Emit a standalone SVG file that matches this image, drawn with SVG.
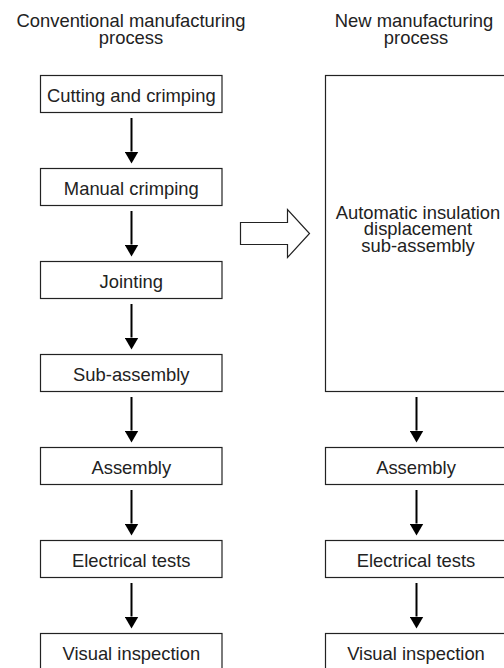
<svg xmlns="http://www.w3.org/2000/svg" width="504" height="668" viewBox="0 0 504 668">
<style>
  .box { fill: #fff; stroke: #222; stroke-width: 1.2; }
  .t { font-family: "Liberation Sans", Arial, sans-serif; font-size: 18.4px; fill: #222; text-anchor: middle; }
  .c { stroke: #000; stroke-width: 2; fill: none; }
  .hollow { fill: #fff; stroke: #222; stroke-width: 1.2; stroke-linejoin: miter; }
</style>
<defs>
  <marker id="ah" markerUnits="userSpaceOnUse" markerWidth="12" markerHeight="14" viewBox="0 0 12 14" refX="0" refY="7" orient="auto">
    <path d="M0,0 L12,7 L0,14 z" fill="#000"/>
  </marker>
</defs>

<g id="headers">
  <text class="t" x="131" y="27">Conventional manufacturing</text>
  <text class="t" x="131" y="44">process</text>
  <text class="t" x="414" y="27">New manufacturing</text>
  <text class="t" x="416" y="44">process</text>
</g>

<g id="c1"><rect class="box" x="40.5" y="75.5" width="181.5" height="37"/><text class="t" x="131.3" y="101.5">Cutting and crimping</text></g>
<g id="c2"><rect class="box" x="40.5" y="168.5" width="181.5" height="37"/><text class="t" x="131.3" y="194.5">Manual crimping</text></g>
<g id="c3"><rect class="box" x="40.5" y="261.5" width="181.5" height="37"/><text class="t" x="131.3" y="287.5">Jointing</text></g>
<g id="c4"><rect class="box" x="40.5" y="354.5" width="181.5" height="37"/><text class="t" x="131.3" y="380.5">Sub-assembly</text></g>
<g id="c5"><rect class="box" x="40.5" y="447.5" width="181.5" height="37"/><text class="t" x="131.3" y="473.5">Assembly</text></g>
<g id="c6"><rect class="box" x="40.5" y="540.5" width="181.5" height="37"/><text class="t" x="131.3" y="566.5">Electrical tests</text></g>
<g id="c7"><rect class="box" x="40.5" y="633.5" width="181.5" height="37"/><text class="t" x="131.3" y="659.5">Visual inspection</text></g>

<g id="n1"><rect class="box" x="325.5" y="75.5" width="181.5" height="316"/>
  <text class="t" x="418" y="218.5">Automatic insulation</text>
  <text class="t" x="418" y="235">displacement</text>
  <text class="t" x="418" y="251.5">sub-assembly</text>
</g>
<g id="n2"><rect class="box" x="325.5" y="447.5" width="181.5" height="37"/><text class="t" x="416" y="473.5">Assembly</text></g>
<g id="n3"><rect class="box" x="325.5" y="540.5" width="181.5" height="37"/><text class="t" x="416" y="566.5">Electrical tests</text></g>
<g id="n4"><rect class="box" x="325.5" y="633.5" width="181.5" height="37"/><text class="t" x="416" y="659.5">Visual inspection</text></g>

<g id="connectors">
  <line class="c" x1="131.5" y1="118" x2="131.5" y2="151.5" marker-end="url(#ah)"/>
  <line class="c" x1="131.5" y1="211" x2="131.5" y2="244.5" marker-end="url(#ah)"/>
  <line class="c" x1="131.5" y1="304" x2="131.5" y2="337.5" marker-end="url(#ah)"/>
  <line class="c" x1="131.5" y1="397" x2="131.5" y2="430.5" marker-end="url(#ah)"/>
  <line class="c" x1="131.5" y1="490" x2="131.5" y2="523.5" marker-end="url(#ah)"/>
  <line class="c" x1="131.5" y1="583" x2="131.5" y2="616.5" marker-end="url(#ah)"/>
  <line class="c" x1="416.5" y1="397" x2="416.5" y2="430.5" marker-end="url(#ah)"/>
  <line class="c" x1="416.5" y1="490" x2="416.5" y2="523.5" marker-end="url(#ah)"/>
  <line class="c" x1="416.5" y1="583" x2="416.5" y2="616.5" marker-end="url(#ah)"/>
  <polygon class="hollow" points="240.5,222.5 287.5,222.5 287.5,209.5 309.5,233.5 287.5,257.5 287.5,244.5 240.5,244.5"/>
</g>
</svg>
